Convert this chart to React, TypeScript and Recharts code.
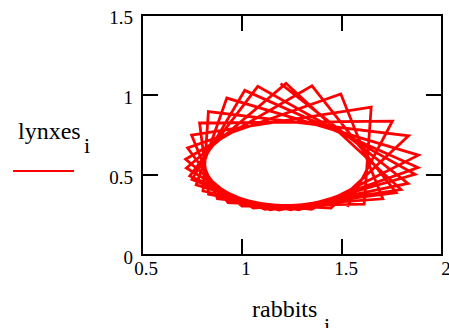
import React from 'react';
import {
  LineChart,
  Line,
  XAxis,
  YAxis,
  ReferenceArea,
  ReferenceLine,
} from 'recharts';

// orbit points, in drawing order
const rabbits = [
  1.527, 1.752, 0.788, 0.833, 1.284, 1.88, 1.014, 0.75, 1.14, 1.795, 1.22,
  0.722, 1.057, 1.704, 1.494, 0.728, 0.93, 1.445, 1.833, 0.832, 0.805,
  1.245, 1.865, 1.079, 0.739, 1.114, 1.771, 1.35, 0.718, 1.0, 1.611,
  1.646, 0.748, 0.877, 1.348, 1.882, 0.924, 0.771, 1.185, 1.83, 1.193,
];
const lynxes = [
  0.301, 0.837, 0.825, 0.379, 0.282, 0.547, 1.029, 0.471, 0.283, 0.409, 1.073,
  0.544, 0.293, 0.351, 1.006, 0.669, 0.328, 0.293, 0.745, 0.896, 0.4,
  0.282, 0.504, 1.054, 0.494, 0.285, 0.39, 1.057, 0.598, 0.305, 0.318,
  0.924, 0.75, 0.352, 0.286, 0.624, 0.981, 0.438, 0.281, 0.447, 1.071,
];

const xTicks = [0.5, 1, 1.5, 2];
const yTicks = [0, 0.5, 1, 1.5];
const xInnerTicks = [1, 1.5];
const yInnerTicks = [0.5, 1];

const data = rabbits.map((r, i) => ({ rabbits: r, lynxes: lynxes[i] }));

const serif = '"Liberation Serif", "Times New Roman", serif';
const tickStyle = { fontSize: 19, fill: '#000', fontFamily: serif };
const labelStyle = { fontFamily: serif, fill: '#000' };

export default function App() {
  return (
    <div style={{ position: 'absolute', left: 0, top: 0, width: 449, height: 328 }}>
      <LineChart
        width={449}
        height={328}
        data={data}
        margin={{ top: 15, right: 7, bottom: 43, left: 112 }}
      >
        <XAxis
          type="number"
          dataKey="rabbits"
          domain={[0.5, 2]}
          ticks={xTicks}
          interval={0}
          height={30}
          axisLine={false}
          tickLine={false}
          tickMargin={1}
          tick={{ ...tickStyle, dx: 4 }}
          allowDataOverflow
        />
        <YAxis
          type="number"
          domain={[0, 1.5]}
          ticks={yTicks}
          interval={0}
          width={30}
          axisLine={false}
          tickLine={false}
          tickMargin={3}
          tick={{ ...tickStyle, dy: 2 }}
          allowDataOverflow
        />
        <ReferenceArea
          x1={0.5}
          x2={2}
          y1={0}
          y2={1.5}
          fill="none"
          stroke="#000"
          strokeWidth={2}
          fillOpacity={0}
        />
        {xInnerTicks.map((v) => (
          <ReferenceLine
            key={'xb' + v}
            segment={[{ x: v, y: 0 }, { x: v, y: 0.1 }]}
            stroke="#000"
            strokeWidth={2}
          />
        ))}
        {xInnerTicks.map((v) => (
          <ReferenceLine
            key={'xt' + v}
            segment={[{ x: v, y: 1.5 }, { x: v, y: 1.4 }]}
            stroke="#000"
            strokeWidth={2}
          />
        ))}
        {yInnerTicks.map((v) => (
          <ReferenceLine
            key={'yl' + v}
            segment={[{ x: 0.5, y: v }, { x: 0.58, y: v }]}
            stroke="#000"
            strokeWidth={2}
          />
        ))}
        {yInnerTicks.map((v) => (
          <ReferenceLine
            key={'yr' + v}
            segment={[{ x: 2, y: v }, { x: 1.92, y: v }]}
            stroke="#000"
            strokeWidth={2}
          />
        ))}
        <Line
          type="linear"
          dataKey="lynxes"
          stroke="#ff0000"
          strokeWidth={2.8}
          dot={false}
          activeDot={false}
          isAnimationActive={false}
        />
      </LineChart>
      <svg
        width={449}
        height={328}
        style={{ position: 'absolute', left: 0, top: 0, pointerEvents: 'none' }}
      >
        <text x={18} y={139} fontSize={24} style={labelStyle}>lynxes</text>
        <text x={84} y={153} fontSize={22} style={labelStyle}>i</text>
        <line x1={13} y1={171} x2={74} y2={171} stroke="#ff0000" strokeWidth={2} />
        <text x={252} y={317} fontSize={24} style={labelStyle}>rabbits</text>
        <text x={324} y={333} fontSize={22} style={labelStyle}>i</text>
      </svg>
    </div>
  );
}
